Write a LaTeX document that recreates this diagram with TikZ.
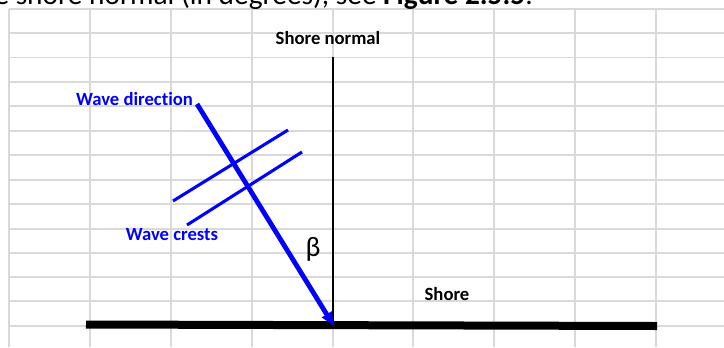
\documentclass[tikz,border=0pt]{standalone}
\usepackage{fontspec}
\setmainfont[Ligatures=NoCommon]{Carlito}
\usetikzlibrary{arrows.meta}
\definecolor{wblue}{RGB}{0,0,255}
\definecolor{gridgray}{RGB}{217,217,217}
\begin{document}
\begin{tikzpicture}[x=0.75pt,y=-0.75pt,
  gridline/.style={draw=gridgray, line width=0.8pt},
  lbl/.style={font=\bfseries\fontsize{14}{16}\selectfont, inner sep=0pt},
  bluelbl/.style={lbl, text=wblue},
  normalline/.style={line width=1.5pt, draw=black},
  shoreline/.style={line width=6pt, draw=black},
  crest/.style={line width=2.3pt, draw=wblue},
  wavearrow/.style={line width=3.6pt, draw=wblue, -{Triangle[length=10pt,width=8pt]}, shorten >=-1pt}]
\useasboundingbox (0,0) rectangle (724,347);
\clip (0,0) rectangle (724,347);
% spreadsheet grid
\foreach \x in {9,90,171,252,333,413,494,575,656} \draw[gridline] (\x,9) -- (\x,347);
\foreach \y in {9,33,57.5,82,106,131,155,180,204,229,253,277,301,326} \draw[gridline] (9,\y) -- (724,\y);
% cut-off caption text at top
\node[anchor=base east, font=\fontsize{22}{26}\selectfont, inner sep=0pt] (intro) at (533,4) {e shore normal (in degrees), see \textbf{Figure 2.5.5}.};
% coordinates
\coordinate (ntop) at (333,57);
\coordinate (foot) at (333,324.5);
\coordinate (sL) at (86,324.5);
\coordinate (sR) at (657,326);
\coordinate (wdstart) at (197,104);
\coordinate (c1a) at (173,201);
\coordinate (c1b) at (288,130);
\coordinate (c2a) at (187,225);
\coordinate (c2b) at (302,152);
% lines
\draw[normalline] (ntop) -- (foot);
\draw[shoreline] (sL) -- (sR);
\draw[crest] (c1a) -- (c1b);
\draw[crest] (c2a) -- (c2b);
\draw[wavearrow] (wdstart) -- (foot);
% labels
\node[lbl] (snlabel) at (328,38) {Shore normal};
\node[lbl] (shorelabel) at (447,294) {Shore};
\node[bluelbl] (wdlabel) at (134.5,99) {Wave direction};
\node[bluelbl] (wclabel) at (172,235) {Wave crests};
\node[font=\fontsize{21}{23}\selectfont, inner sep=0pt] (beta) at (313,249) {β};
\end{tikzpicture}
\end{document}
